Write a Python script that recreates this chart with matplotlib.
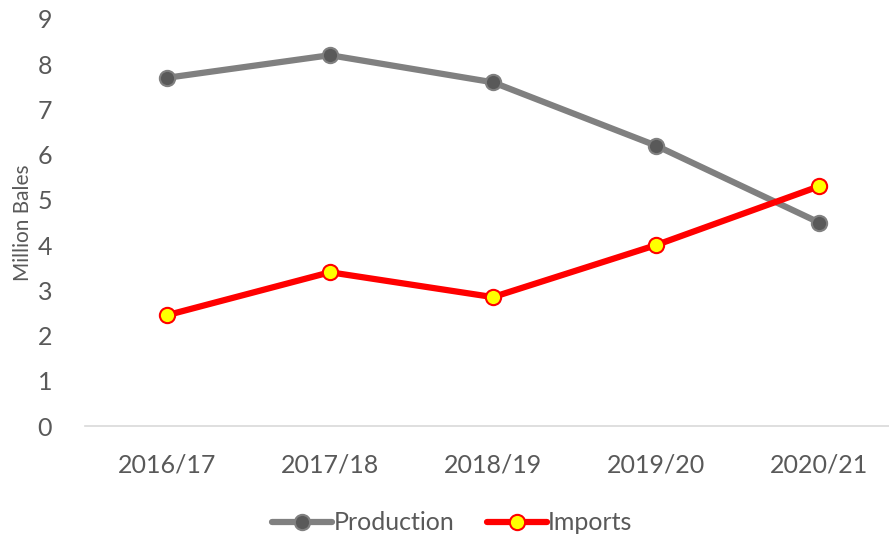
"""Production vs imports chart"""

import matplotlib
matplotlib.use("Agg")
import matplotlib.pyplot as plt

years = ["2016/17", "2017/18", "2018/19", "2019/20", "2020/21"]
production = [7.7, 8.2, 7.6, 6.2, 4.5]
imports = [2.45, 3.4, 2.85, 4.0, 5.3]

plt.rcParams['font.family'] = ['Lato', 'DejaVu Sans']

fig = plt.figure(figsize=(8.89, 5.37), dpi=100)
ax = fig.add_axes([85.5 / 889, 1 - 426 / 537, 815 / 889, 407 / 537])

x = range(len(years))
ax.plot(x, production, color="#808080", lw=4.5, marker="o", ms=11,
        markerfacecolor="#595959", markeredgecolor="#808080", mew=1.5,
        label="Production", solid_capstyle="round")
ax.plot(x, imports, color="#FF0000", lw=4.5, marker="o", ms=11,
        markerfacecolor="#FFFF00", markeredgecolor="#FF0000", mew=1.5,
        label="Imports", solid_capstyle="round")

ax.set_xlim(-0.5, 4.5)
ax.set_ylim(0, 9)
ax.set_yticks(range(0, 10))
ax.set_xticks(list(x))
ax.set_xticklabels(years)
ax.tick_params(axis="both", length=0, labelsize=18, colors="#595959")
ax.tick_params(axis="x", pad=20)
ax.tick_params(axis="y", pad=24)
for s in ["top", "right", "left"]:
    ax.spines[s].set_visible(False)
ax.spines["bottom"].set_color("#D9D9D9")
ax.spines["bottom"].set_linewidth(1.2)
ax.set_ylabel("Million Bales", fontsize=15, color="#595959", labelpad=3)

ax.legend(loc="center", bbox_to_anchor=(0.450, -0.238), ncol=2,
          frameon=False, fontsize=18, labelcolor="#595959", handlelength=2.4,
          handletextpad=0.05, columnspacing=1.3, borderaxespad=0)

fig.savefig("out.png", dpi=100)
